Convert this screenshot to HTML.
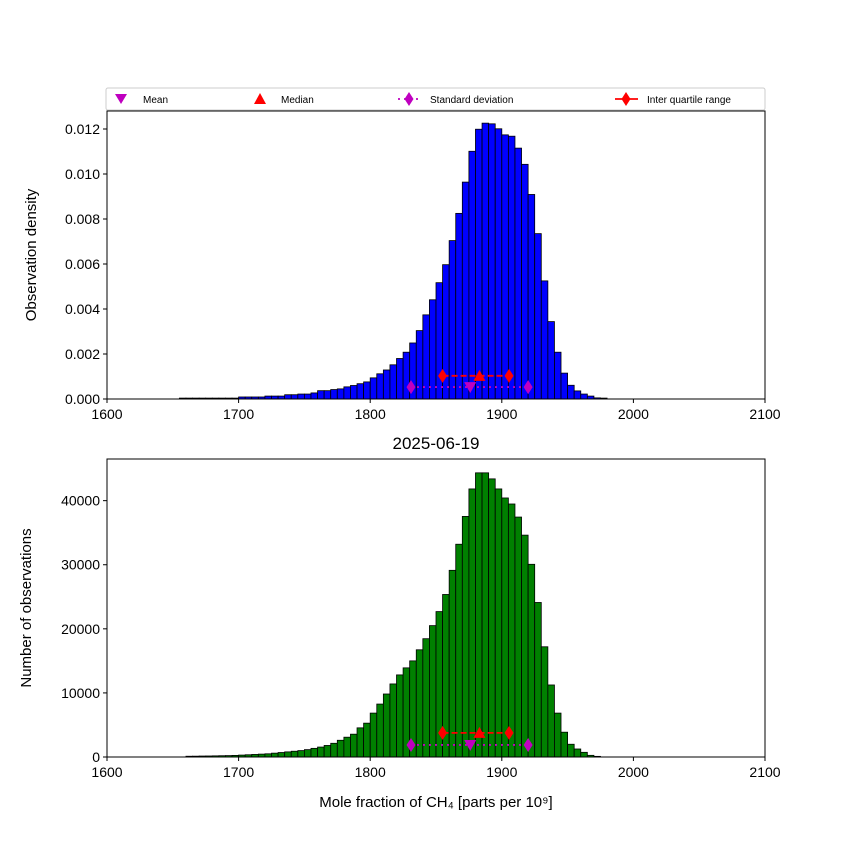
<!DOCTYPE html>
<html><head><meta charset="utf-8"><style>
body{margin:0;background:#fff;}
svg{display:block;font-family:"Liberation Sans",sans-serif;}
</style></head><body>
<svg id="chart" width="850" height="850" xmlns="http://www.w3.org/2000/svg"></svg>
<script>
const binStartsTop = [1655,1660,1665,1670,1675,1680,1685,1690,1695,1700,1705,1710,1715,1720,1725,1730,1735,1740,1745,1750,1755,1760,1765,1770,1775,1780,1785,1790,1795,1800,1805,1810,1815,1820,1825,1830,1835,1840,1845,1850,1855,1860,1865,1870,1875,1880,1885,1890,1895,1900,1905,1910,1915,1920,1925,1930,1935,1940,1945,1950,1955,1960,1965,1970,1975];
const densityTop = [0.00004,0.00004,0.00004,0.00004,0.00004,0.00004,0.00004,0.00004,0.00004,0.00009,0.00009,0.00009,0.00009,0.00013,0.00013,0.00013,0.00019,0.00019,0.00022,0.00022,0.00027,0.00037,0.00037,0.00042,0.00045,0.00054,0.0006,0.00068,0.00076,0.00094,0.00112,0.00129,0.00152,0.0018,0.00208,0.00249,0.00304,0.00374,0.00441,0.00517,0.00597,0.00704,0.00825,0.00964,0.01101,0.01199,0.01226,0.01223,0.01201,0.01174,0.01168,0.01115,0.01043,0.00909,0.00735,0.00525,0.00344,0.00208,0.00115,0.00061,0.00036,0.00022,0.00013,0.00005,0.00004];
const binStartsBottom = [1660,1665,1670,1675,1680,1685,1690,1695,1700,1705,1710,1715,1720,1725,1730,1735,1740,1745,1750,1755,1760,1765,1770,1775,1780,1785,1790,1795,1800,1805,1810,1815,1820,1825,1830,1835,1840,1845,1850,1855,1860,1865,1870,1875,1880,1885,1890,1895,1900,1905,1910,1915,1920,1925,1930,1935,1940,1945,1950,1955,1960,1965,1970];
const countsBottom = [120,130,150,160,180,200,220,250,300,350,400,450,500,600,700,800,900,1000,1150,1350,1550,1800,2140,2610,3090,3560,4550,5280,6850,8260,9830,11400,12810,13910,15000,16730,18460,20500,22690,25360,29130,33200,37540,41830,44340,44340,43400,41830,40420,39480,37440,34620,30070,24110,17200,11240,6850,3870,1990,1250,730,260,100];
const binWidth = 5;
const xTicks = [1600,1700,1800,1900,2000,2100];
const yTicksTop = [0,0.002,0.004,0.006,0.008,0.010,0.012];
const yTicksBottom = [0,10000,20000,30000,40000];
const statsTop = {mean:1876, median:1883, q1:1855, q3:1905.5, sdLo:1831, sdHi:1920, iqrY:0.00103, sdY:0.00053, meanY:0.00053, medY:0.00103};
const statsBottom = {mean:1876, median:1883, q1:1855, q3:1905.5, sdLo:1831, sdHi:1920, iqrY:3760, sdY:1880, meanY:1880, medY:3760};

const svg = document.getElementById('chart');
const NS = 'http://www.w3.org/2000/svg';
function el(tag, attrs, parent){const e=document.createElementNS(NS,tag);for(const k in attrs)e.setAttribute(k,attrs[k]);(parent||svg).appendChild(e);return e;}
function xs(v){return 107+(v-1600)*(765-107)/500;}

function panel(top,bottom,yMax,yTicks,fmt,starts,vals,color,stats,ylabel,name){
  const ys=v=>bottom-(v/yMax)*(bottom-top);
  const g=el('g',{});
  
  
  starts.forEach((s,i)=>{
    const r=el('rect',{x:xs(s),y:ys(vals[i]),width:xs(s+binWidth)-xs(s),height:bottom-ys(vals[i]),fill:color,stroke:'#000','stroke-width':0.8},g);
    
    
  });
  // stats markers
  const iqr=el('line',{x1:xs(stats.q1),x2:xs(stats.q3),y1:ys(stats.iqrY),y2:ys(stats.iqrY),stroke:'#f00','stroke-width':1.8,'stroke-dasharray':'6,3'},g);
  
  
  const sd=el('line',{x1:xs(stats.sdLo),x2:xs(stats.sdHi),y1:ys(stats.sdY),y2:ys(stats.sdY),stroke:'#bf00bf','stroke-width':1.8,'stroke-dasharray':'2,4'},g);
  
  
  [[stats.q1,stats.iqrY,'#f00'],[stats.q3,stats.iqrY,'#f00'],[stats.sdLo,stats.sdY,'#bf00bf'],[stats.sdHi,stats.sdY,'#bf00bf']].forEach(d=>{
    const cx=xs(d[0]),cy=ys(d[1]);
    const p=el('polygon',{points:`${cx},${cy-7} ${cx+4.5},${cy} ${cx},${cy+7} ${cx-4.5},${cy}`,fill:d[2]},g);
    
    
  });
  {const cx=xs(stats.median),cy=ys(stats.medY);
   const p=el('polygon',{points:`${cx},${cy-6} ${cx+6},${cy+5} ${cx-6},${cy+5}`,fill:'#f00'},g);
   
   }
  {const cx=xs(stats.mean),cy=ys(stats.meanY);
   const p=el('polygon',{points:`${cx-6},${cy-5} ${cx+6},${cy-5} ${cx},${cy+6}`,fill:'#bf00bf'},g);
   
   }
  const frame=el('rect',{x:107,y:top,width:658,height:bottom-top,fill:'none',stroke:'#000','stroke-width':1},g);
  
  
  xTicks.forEach(t=>{
    el('line',{x1:xs(t),x2:xs(t),y1:bottom,y2:bottom+4,stroke:'#000'},g);
    const tx=el('text',{x:xs(t),y:bottom+20,'font-size':14,'text-anchor':'middle'},g);
    tx.textContent=t;
    
    
  });
  yTicks.forEach(t=>{
    el('line',{x1:103,x2:107,y1:ys(t),y2:ys(t),stroke:'#000'},g);
    const tx=el('text',{x:100,y:ys(t)+5,'font-size':14,'text-anchor':'end'},g);
    tx.textContent=fmt(t);
    
    
  });
  return g;
}
panel(111,399,0.0128,yTicksTop,t=>t.toFixed(3),binStartsTop,densityTop,'#0000ff',statsTop,'','top-density-panel');
panel(459,757,46500,yTicksBottom,t=>String(t),binStartsBottom,countsBottom,'#008000',statsBottom,'','bottom-count-panel');

function txt(x,y,s,size,name,extra){const t=el('text',Object.assign({x:x,y:y,'font-size':size},extra||{}));t.textContent=s;return t;}
txt(36,255,'Observation density',15,'y-axis-title-top',{'text-anchor':'middle',transform:'rotate(-90 36 255)'});
txt(31,608,'Number of observations',15,'y-axis-title-bottom',{'text-anchor':'middle',transform:'rotate(-90 31 608)'});
txt(436,449,'2025-06-19',17,'bottom-chart-title',{'text-anchor':'middle'});
txt(436,807,'Mole fraction of CH₄ [parts per 10⁹]',15,'x-axis-title',{'text-anchor':'middle'});

// legend
const lg=el('g',{});


el('rect',{x:106,y:88,width:659,height:22,fill:'#fff',stroke:'#ccc','stroke-width':1,rx:2},lg);
el('polygon',{points:'115,94 127,94 121,104',fill:'#bf00bf'},lg);
txt(143,103,'Mean',10,'legend-entry-mean');
el('polygon',{points:'260,93 266,104 254,104',fill:'#f00'},lg);
txt(281,103,'Median',10,'legend-entry-median');
el('line',{x1:398,x2:421,y1:99,y2:99,stroke:'#bf00bf','stroke-width':1.8,'stroke-dasharray':'2,4'},lg);
el('polygon',{points:'409,92 413.5,99 409,106 404.5,99',fill:'#bf00bf'},lg);
txt(430,103,'Standard deviation',10,'legend-entry-std');
el('line',{x1:615,x2:638,y1:99,y2:99,stroke:'#f00','stroke-width':1.8},lg);
el('polygon',{points:'626,92 630.5,99 626,106 621.5,99',fill:'#f00'},lg);
txt(647,103,'Inter quartile range',10,'legend-entry-iqr');
</script>
</body></html>
